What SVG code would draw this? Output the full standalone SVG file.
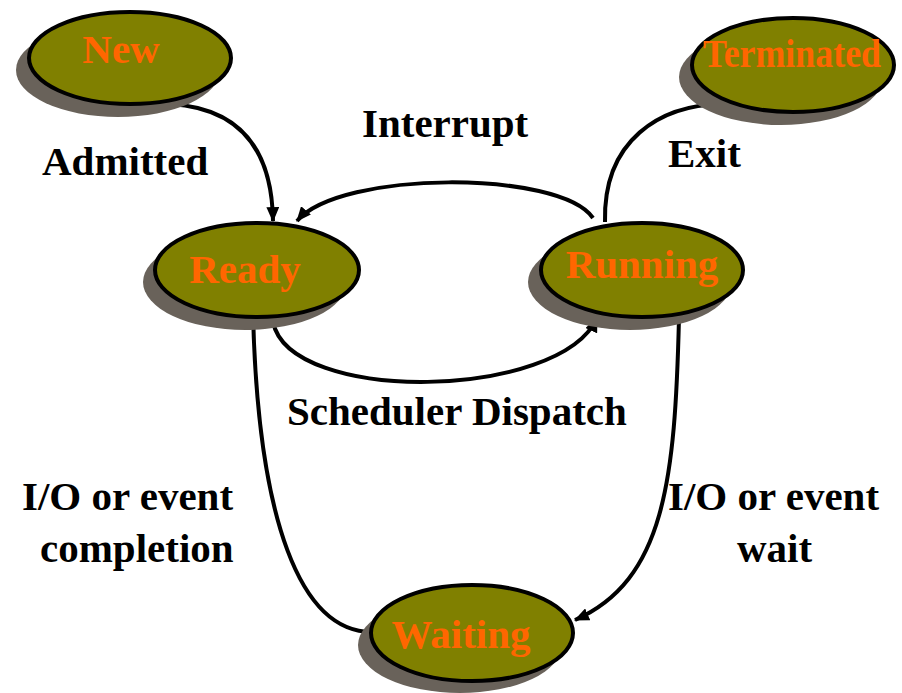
<svg xmlns="http://www.w3.org/2000/svg" width="902" height="693" viewBox="0 0 902 693">
<style>
.shadow{fill:#69625a}
.node{fill:#808000;stroke:#000;stroke-width:4}
.ntext{font-weight:bold;font-size:41px;fill:#ff6600;text-anchor:middle}
.label{font-weight:bold;font-size:41px;fill:#000}
.edge{fill:none;stroke:#000;stroke-width:4}
</style>
<defs>
<marker id="arrow" viewBox="0 0 14 12" refX="13" refY="6" markerWidth="15" markerHeight="13" markerUnits="userSpaceOnUse" orient="auto">
<path d="M0,0 L14,6 L0,12 z" fill="#000"/>
</marker>
</defs>
<rect width="902" height="693" fill="#fff"/>
<g id="connectors">
<path class="edge" d="M170,104 C240,108 272,150 273,221" marker-end="url(#arrow)"/>
<path class="edge" d="M593,218 C560,170 340,170 297,221" marker-end="url(#arrow)"/>
<path class="edge" d="M605,222 C603,140 660,105 722,104"/>
<path class="edge" d="M273,322 C290,405 560,400 597,318" marker-end="url(#arrow)"/>
<path class="edge" d="M679,318 C675,480 665,580 575,620" marker-end="url(#arrow)"/>
<path class="edge" d="M372,632 C300,632 258,520 253,313" marker-end="url(#arrow)"/>
</g>
<g font-family="Liberation Serif, Times New Roman, serif">
<g id="node-new">
<ellipse class="shadow" cx="118" cy="70" rx="102" ry="47"/>
<ellipse class="node" cx="130" cy="58" rx="101" ry="46"/>
<text class="ntext" x="121" y="63">New</text>
</g>
<g id="node-terminated">
<ellipse class="shadow" cx="781" cy="77" rx="102" ry="48"/>
<ellipse class="node" cx="793" cy="65" rx="101" ry="47"/>
<text class="ntext" x="792" y="67" font-size="31" textLength="178" lengthAdjust="spacingAndGlyphs">Terminated</text>
</g>
<g id="node-ready">
<ellipse class="shadow" cx="245" cy="282" rx="102" ry="48"/>
<ellipse class="node" cx="257" cy="270" rx="102" ry="47"/>
<text class="ntext" x="245" y="283">Ready</text>
</g>
<g id="node-running">
<ellipse class="shadow" cx="630" cy="282" rx="102" ry="48"/>
<ellipse class="node" cx="642" cy="270" rx="101" ry="47"/>
<text class="ntext" x="642" y="278">Running</text>
</g>
<g id="node-waiting">
<ellipse class="shadow" cx="460" cy="645" rx="102" ry="48"/>
<ellipse class="node" cx="472" cy="633" rx="101" ry="48"/>
<text class="ntext" x="461" y="648">Waiting</text>
</g>
<g id="labels">
<text class="label" x="42" y="175">Admitted</text>
<text class="label" x="362" y="137">Interrupt</text>
<text class="label" x="668" y="167">Exit</text>
<text class="label" x="287" y="425">Scheduler Dispatch</text>
<text class="label" x="22" y="510">I/O or event</text>
<text class="label" x="40" y="562">completion</text>
<text class="label" x="668" y="510">I/O or event</text>
<text class="label" x="737" y="562">wait</text>
</g>
</g>
</svg>
